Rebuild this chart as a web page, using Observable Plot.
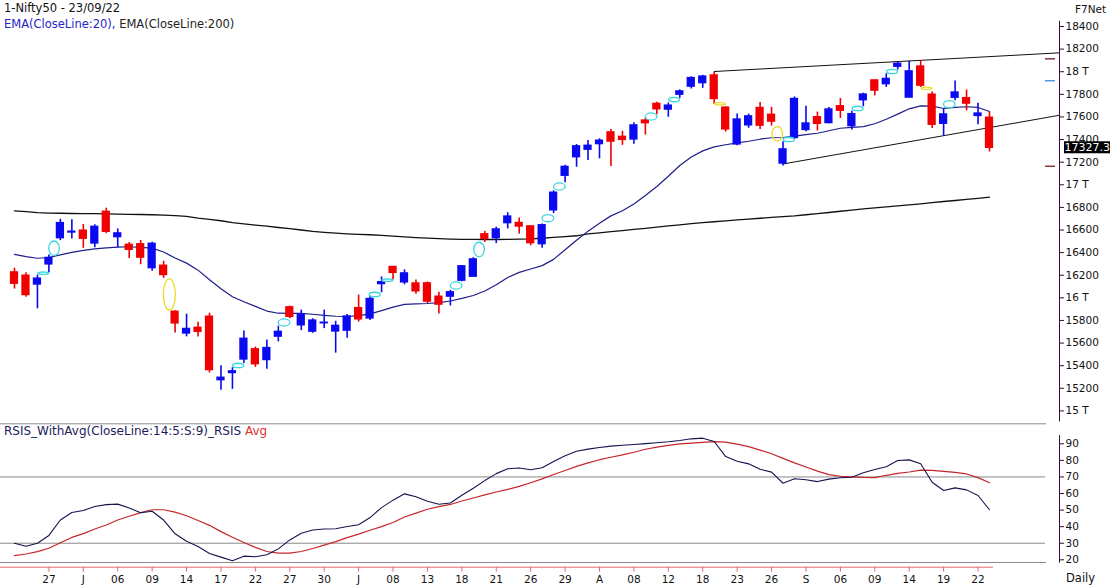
<!DOCTYPE html>
<html><head><meta charset="utf-8">
<script src="https://cdn.jsdelivr.net/npm/d3@7"></script>
<script src="https://cdn.jsdelivr.net/npm/@observablehq/plot@0.6"></script>
<style>
body{margin:0;background:#fff;}
#wrap{position:relative;width:1110px;height:587px;overflow:hidden;font-family:"DejaVu Sans",sans-serif;background:#fff;}
.lbl{position:absolute;white-space:nowrap;font-size:11.5px;line-height:14px;}
</style></head><body>
<div id="wrap">
<div id="price" style="position:absolute;left:0;top:0"></div>
<div id="rsi" style="position:absolute;left:0;top:423px"></div>
<div class="lbl" style="left:4px;top:1px;color:#111">1-Nifty50 - 23/09/22</div>
<div class="lbl" style="left:4px;top:17px"><span style="color:#2424c8">EMA(CloseLine:20),</span> <span style="color:#222">EMA(CloseLine:200)</span></div>
<div class="lbl" style="left:1075px;top:2px;color:#111;font-size:10.5px">F7Net</div>
<div class="lbl" style="left:4px;top:423.5px;font-size:12px"><span style="color:#1c1c5c">RSIS_WithAvg(CloseLine:14:5:S:9)_RSIS</span> <span style="color:#e03030">Avg</span></div>
<div class="lbl" style="left:1066px;top:571px;color:#111">Daily</div>
</div>
<script>
// ---------- DATA ----------
const dates = ["2022-05-24","2022-05-25","2022-05-26","2022-05-27","2022-05-30","2022-05-31","2022-06-01","2022-06-02","2022-06-03","2022-06-06","2022-06-07","2022-06-08","2022-06-09","2022-06-10","2022-06-13","2022-06-14","2022-06-15","2022-06-16","2022-06-17","2022-06-20","2022-06-21","2022-06-22","2022-06-23","2022-06-24","2022-06-27","2022-06-28","2022-06-29","2022-06-30","2022-07-01","2022-07-04","2022-07-05","2022-07-06","2022-07-07","2022-07-08","2022-07-11","2022-07-12","2022-07-13","2022-07-14","2022-07-15","2022-07-18","2022-07-19","2022-07-20","2022-07-21","2022-07-22","2022-07-25","2022-07-26","2022-07-27","2022-07-28","2022-07-29","2022-08-01","2022-08-02","2022-08-03","2022-08-04","2022-08-05","2022-08-08","2022-08-10","2022-08-11","2022-08-12","2022-08-16","2022-08-17","2022-08-18","2022-08-19","2022-08-22","2022-08-23","2022-08-24","2022-08-25","2022-08-26","2022-08-29","2022-08-30","2022-09-01","2022-09-02","2022-09-05","2022-09-06","2022-09-07","2022-09-08","2022-09-09","2022-09-12","2022-09-13","2022-09-14","2022-09-15","2022-09-16","2022-09-19","2022-09-20","2022-09-21","2022-09-22","2022-09-23"];
const open  = [16225,16196,16118,16296,16528,16578,16594,16481,16761,16537,16469,16474,16263,16284,15877,15685,15735,15833,15272,15335,15455,15545,15450,15657,15916,15757,15701,15775,15703,15710,15909,15818,16122,16273,16137,16127,16128,16010,16011,16152,16187,16562,16528,16661,16662,16632,16475,16774,17080,17244,17310,17360,17463,17424,17401,17568,17716,17665,17797,17868,17899,17967,17682,17357,17526,17679,17619,17188,17414,17485,17598,17546,17695,17519,17748,17923,17890,18044,17771,18046,17797,17540,17770,17766,17609,17593];
const high  = [16262,16223,16200,16380,16695,16691,16649,16646,16793,16610,16490,16507,16492,16324,15886,15855,15783,15864,15400,15382,15707,15565,15628,15749,15927,15892,15815,15891,15793,15852,16025,16011,16185,16275,16248,16158,16140,16050,16066,16287,16355,16588,16625,16753,16706,16636,16653,16947,17172,17356,17391,17407,17490,17474,17548,17590,17730,17724,17839,17955,17968,17993,17690,17625,17625,17727,17685,17380,17777,17695,17643,17683,17764,17650,17810,17925,17981,18088,18091,18096,17820,17667,17919,17838,17722,17642];
const low   = [16078,16006,15903,16221,16506,16521,16438,16443,16567,16444,16347,16293,16236,16172,15690,15655,15654,15335,15183,15191,15419,15385,15368,15610,15815,15710,15687,15728,15511,15642,15785,15800,16045,16157,16115,16032,15950,15858,15928,16142,16187,16490,16480,16610,16564,16460,16439,16746,17018,17155,17215,17230,17161,17349,17359,17440,17620,17597,17765,17847,17853,17710,17466,17346,17500,17488,17520,17167,17399,17468,17476,17540,17587,17485,17691,17786,17861,18015,17771,17861,17497,17429,17744,17654,17532,17291];
const close = [16125,16025,16170,16353,16661,16585,16523,16628,16584,16570,16425,16356,16478,16202,15774,15725,15700,15361,15293,15350,15638,15413,15556,15699,15832,15850,15799,15780,15752,15835,15810,15990,16138,16221,16216,16058,15967,15940,16049,16279,16340,16521,16605,16719,16631,16484,16642,16930,17158,17340,17345,17390,17382,17397,17525,17545,17668,17700,17826,17944,17957,17759,17490,17577,17605,17523,17559,17313,17759,17542,17539,17666,17655,17624,17798,17833,17936,18070,18003,17877,17531,17622,17816,17718,17630,17327.3];
const ema20 = [16385,16365,16350,16357,16380,16402,16420,16433,16442,16448,16452,16447,16440,16405,16352,16307,16245,16160,16080,16010,15966,15925,15883,15864,15862,15862,15855,15845,15837,15835,15842,15858,15887,15918,15942,15946,15950,15957,15972,15995,16021,16060,16115,16180,16225,16255,16285,16340,16425,16510,16590,16660,16725,16770,16830,16905,16985,17075,17170,17245,17300,17335,17354,17370,17385,17403,17416,17418,17430,17443,17456,17478,17500,17508,17515,17540,17580,17625,17672,17698,17696,17675,17685,17690,17684,17648];
const ema200 = [16770,16762,16754,16750,16748,16746,16745,16744,16743,16741,16739,16737,16735,16731,16727,16720,16705,16694,16682,16665,16655,16644,16634,16622,16612,16600,16588,16579,16572,16566,16561,16558,16552,16546,16540,16533,16528,16523,16520,16518,16517,16516,16516,16517,16519,16521,16527,16534,16542,16549,16565,16575,16585,16595,16605,16615,16625,16636,16646,16656,16665,16673,16681,16690,16697,16704,16711,16718,16725,16735,16745,16755,16766,16776,16786,16795,16804,16814,16823,16832,16842,16852,16861,16871,16880,16890];
const rsi = [30.0,28.2,30.0,34.7,44.0,48.5,49.8,52.2,53.3,53.6,51.2,48.4,49.3,44.0,35.7,31.2,28.0,23.8,21.6,19.4,22.2,21.8,23.0,26.6,32.0,36.0,38.0,38.6,38.7,40.1,41.2,45.5,51.5,56.0,59.8,58.0,55.3,53.5,54.3,59.0,63.2,67.8,72.0,74.9,75.4,74.3,75.5,79.3,82.8,85.5,86.8,87.8,88.6,89.1,89.6,90.1,90.6,91.2,92.0,93.0,93.4,91.4,82.3,79.5,77.9,74.6,72.9,66.2,68.9,68.3,67.2,68.7,69.5,69.8,72.5,74.5,76.2,79.9,80.3,78.0,66.8,61.8,63.4,62.2,58.8,50.2];
const rsiAvg = [22.5,23.5,24.9,27.0,30.3,33.5,35.8,38.6,41.0,44.0,46.3,48.5,50.2,50.2,48.8,46.6,43.7,40.8,37.0,33.6,30.4,27.5,25.0,24.0,24.0,25.0,26.8,28.9,31.0,33.4,35.5,37.8,40.0,42.5,45.8,48.2,50.5,52.1,53.4,55.5,57.3,59.2,60.9,62.5,64.3,66.5,68.8,71.5,73.9,76.4,78.5,80.4,81.9,83.3,84.9,86.7,88.0,89.1,89.9,90.4,90.9,91.3,91.0,89.8,88.3,86.2,84.0,81.2,78.5,76.0,73.5,71.4,70.4,70.0,69.7,69.6,71.0,72.1,73.0,74.1,74.0,73.4,72.8,71.8,69.6,66.5];
const rsiLevels = [70, 30];
const priceTicks = [15000,15200,15400,15600,15800,16000,16200,16400,16600,16800,17000,17200,17400,17600,17800,18000,18200,18400];
const priceTickLabels = ["15 T","15200","15400","15600","15800","16 T","16200","16400","16600","16800","17 T","17200","17400","17600","17800","18 T","18200","18400"];
const rsiTicks = [20,30,40,50,60,70,80,90];
const xTickBars = [3,6,9,12,15,18,21,24,27,30,33,36,39,42,45,48,51,54,57,60,63,66,69,72,75,78,81,84];
const xTickLabels = ["27","J","06","09","14","17","22","27","30","J","08","13","18","21","26","29","A","08","12","18","23","26","S","06","09","14","19","22"];
const markerBar   = [2.5,3.45,13.5,19.5,23.5,31.4,32.5,38.5,40.5,46.5,47.5,55.5,57.5,61.5,66.5,67.5,73.5,76.5,79.5,81.5];
const markerPrice = [16218,16439,16030,15402,15782,16030,16156,16109,16428,16705,16985,17604,17754,17716,17451,17401,17675,18002,17854,17713];
const markerColor = ["cyan","cyan","yellow","cyan","cyan","cyan","cyan","cyan","cyan","cyan","cyan","cyan","cyan","yellow","yellow","cyan","cyan","cyan","yellow","cyan"];
const markerShape = ["flat","tall","xtall","small","mid","small","flat","mid","tall","mid","mid","mid","small","flat","tall","small","small","small","flat","mid"];
const upperTrendBar = [61, 91.1], upperTrendPrice = [18002, 18167];
const lowerTrendBar = [67, 91.1], lowerTrendPrice = [17184, 17615];
const sideMarkPrice = [18114, 17920, 17164];
const sideMarkKind  = ["high", "ref", "low"];

// ---------- STYLE ----------
const X0 = -1.2205, X1 = 91.1025;
const BLUE = "#0a0af0", RED = "#f00000", AXIS = "#3a0a3a", GRAY = "#8a8a8a", PINK = "#e46a6a";
const MCOL = {cyan: "#3cd6e2", yellow: "#ecdc2a"};
const SHAPE = {flat: [5.5, 1.2], small: [5.5, 2.2], mid: [5.8, 3.6], tall: [5.3, 7.2], xtall: [6, 15.5]};
const SIDECOL = {high: "#6a1040", ref: "#3a8ae0", low: "#7a1a1a"};
const FONT = {fontFamily: "DejaVu Sans", fontSize: "10.5px", background: "transparent", color: "#111"};

function ellipse(rx, ry) {
  const k = 0.5523;
  return {draw(c) {
    c.moveTo(rx, 0);
    c.bezierCurveTo(rx, ry * k, rx * k, ry, 0, ry);
    c.bezierCurveTo(-rx * k, ry, -rx, ry * k, -rx, 0);
    c.bezierCurveTo(-rx, -ry * k, -rx * k, -ry, 0, -ry);
    c.bezierCurveTo(rx * k, -ry, rx, -ry * k, rx, 0);
    c.closePath();
  }};
}

const bars = close.map((c, i) => ({i, date: dates[i], open: open[i], high: high[i], low: low[i], close: c, up: c >= open[i]}));
const e20 = ema20.map((v, i) => ({i, v}));
const e200 = ema200.map((v, i) => ({i, v}));
const markers = markerBar.map((b, k) => ({b, p: markerPrice[k], color: markerColor[k], shape: markerShape[k]}));
const upper = upperTrendBar.map((b, k) => ({b, p: upperTrendPrice[k]}));
const lower = lowerTrendBar.map((b, k) => ({b, p: lowerTrendPrice[k]}));
const sideMarks = sideMarkPrice.map((p, k) => ({p, kind: sideMarkKind[k]}));

const ellipseMarks = Object.keys(SHAPE).map(s => Plot.dot(markers.filter(m => m.shape === s), {
  x: "b", y: "p", symbol: ellipse(...SHAPE[s]), r: 3, fill: "none",
  stroke: d => MCOL[d.color], strokeWidth: 1.3
}));

const priceChart = Plot.plot({
  width: 1110, height: 423,
  marginLeft: 0, marginRight: 51, marginTop: 26, marginBottom: 12.6,
  style: FONT,
  color: {type: "identity"},
  x: {domain: [X0, X1], axis: null, label: null},
  y: {domain: [15000, 18400], axis: null, label: null},
  marks: [
    Plot.line(e200, {x: "i", y: "v", stroke: "#111", strokeWidth: 1.3}),
    Plot.line(e20, {x: "i", y: "v", stroke: "#1e1e8a", strokeWidth: 1.2}),
    Plot.line(upper, {x: "b", y: "p", stroke: "#111", strokeWidth: 1}),
    Plot.line(lower, {x: "b", y: "p", stroke: "#111", strokeWidth: 1}),
    Plot.ruleX(bars, {x: "i", y1: "low", y2: "high", stroke: d => d.up ? BLUE : RED, strokeWidth: 1.6}),
    Plot.rect(bars, {x1: d => d.i - 0.36, x2: d => d.i + 0.36, y1: "open", y2: "close",
      fill: d => d.up ? BLUE : RED, insetTop: -0.7, insetBottom: -0.7}),
    ...ellipseMarks,
    Plot.ruleY(sideMarks, {y: "p", x1: () => X1, x2: () => X1, insetLeft: -14, insetRight: 4,
      stroke: d => SIDECOL[d.kind], strokeWidth: 1.3}),
    Plot.frame({anchor: "right", insetTop: -5.3, insetBottom: -10, stroke: AXIS}),
    Plot.axisY({anchor: "right", ticks: priceTicks, tickFormat: d => priceTickLabels[priceTicks.indexOf(d)],
      tickSize: 4, tickPadding: 2, stroke: AXIS, fill: "#111"})
  ]
});
document.getElementById("price").append(priceChart);

// last price label on the axis
{
  const ys = priceChart.scale("y"), xs = priceChart.scale("x");
  const last = close[close.length - 1];
  const yy = ys.apply(last), xx = xs.apply(X1);
  const g = d3.select(priceChart).append("g").attr("text-anchor", "start");
  g.append("rect").attr("x", xx + 5).attr("y", yy - 6).attr("width", 60).attr("height", 12).attr("fill", "#000");
  g.append("text").attr("x", xx + 5.5).attr("y", yy).attr("dy", "0.36em").attr("fill", "#fff")
    .attr("text-anchor", "start").attr("font-size", "11px").attr("font-family", "DejaVu Sans")
    .text(d3.format(".1f")(last));
}

const rsiChart = Plot.plot({
  width: 1110, height: 164,
  marginLeft: 0, marginRight: 51, marginTop: 20.3, marginBottom: 20.3,
  style: FONT,
  x: {domain: [X0, X1], axis: null, label: null},
  y: {domain: [20, 90], range: [136.3, 20.3], axis: null, label: null},
  marks: [
    Plot.frame({anchor: "top", insetTop: -20, insetRight: 14, stroke: GRAY}),
    Plot.frame({anchor: "bottom", insetBottom: 4.7, insetRight: 14, stroke: GRAY}),
    Plot.ruleY(rsiLevels, {insetRight: 14, stroke: GRAY}),
    Plot.line(rsiAvg, {x: (d, i) => i, y: d => d, stroke: "#c4262a", strokeWidth: 1.2}),
    Plot.line(rsi, {x: (d, i) => i, y: d => d, stroke: "#14144e", strokeWidth: 1.1}),
    Plot.frame({anchor: "bottom", insetRight: 67, stroke: PINK}),
    Plot.axisX({anchor: "bottom", ticks: xTickBars, tickFormat: d => xTickLabels[xTickBars.indexOf(d)],
      tickSize: 5, tickPadding: 3, stroke: PINK, fill: "#111"}),
    Plot.frame({anchor: "right", insetTop: -8.3, insetBottom: 5, stroke: AXIS}),
    Plot.axisY({anchor: "right", ticks: rsiTicks, tickSize: 4, tickPadding: 2, stroke: AXIS, fill: "#111"})
  ]
});
document.getElementById("rsi").append(rsiChart);
</script>
</body></html>
